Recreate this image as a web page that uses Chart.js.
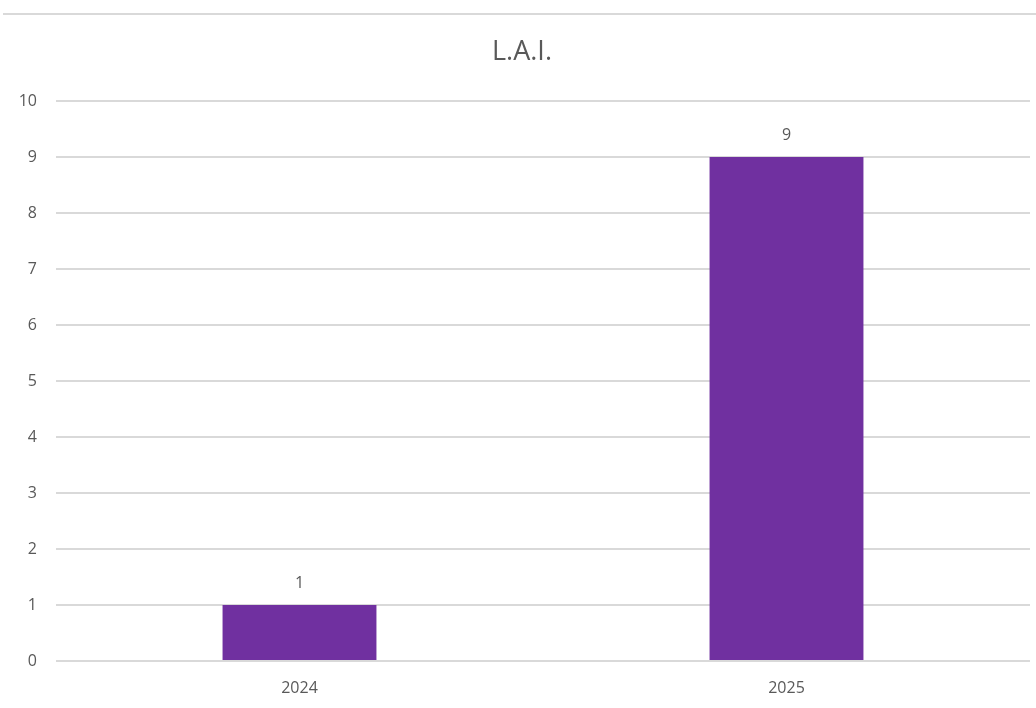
<!DOCTYPE html>
<html>
<head>
<meta charset="utf-8">
<script src="https://cdn.jsdelivr.net/npm/chart.js@4"></script>
<style>
  html, body { margin: 0; padding: 0; background: #fff; }
  #wrap { position: relative; width: 1036px; height: 708px; }
  #topline { position: absolute; left: 3px; right: 0; top: 13px; height: 0; border-top: 2px solid #d9d9d9; }
  canvas { display: block; }
</style>
</head>
<body>
<div id="wrap">
  <div id="topline"></div>
  <canvas id="laiChart" width="1036" height="708"></canvas>
</div>
<script>
const years = ['2024', '2025'];
const laiValues = [1, 9];
const yTicks = [0, 1, 2, 3, 4, 5, 6, 7, 8, 9, 10];

const textColor = '#595959';
const gridColor = '#d9d9d9';
const fontFamily = '"Open Sans", sans-serif';

// draws the value above each bar
const valueLabels = {
    id: 'valueLabels',
    afterDatasetsDraw(chart) {
        const ctx = chart.ctx;
        const meta = chart.getDatasetMeta(0);
        ctx.save();
        ctx.fillStyle = textColor;
        ctx.font = '16px ' + fontFamily;
        ctx.textAlign = 'center';
        ctx.textBaseline = 'middle';
        meta.data.forEach((bar, i) => {
            ctx.fillText(String(laiValues[i]), bar.x, bar.y - 22);
        });
        ctx.restore();
    }
};

const ctx = document.getElementById('laiChart').getContext('2d');
const laiChart = new Chart(ctx, {
    type: 'bar',
    data: {
        labels: years,
        datasets: [{
            label: 'L.A.I.',
            data: laiValues,
            backgroundColor: '#7030a0',
            borderWidth: 0,
            categoryPercentage: 1,
            barPercentage: 0.316
        }]
    },
    options: {
        responsive: false,
        animation: false,
        layout: {
            padding: { left: 14, right: 6, top: 0, bottom: 0 }
        },
        plugins: {
            legend: { display: false },
            tooltip: { enabled: false },
            title: {
                display: true,
                text: 'L.A.I.',
                color: textColor,
                font: { family: fontFamily, size: 27, weight: 'normal' },
                padding: { top: 36, bottom: 32.6 }
            }
        },
        scales: {
            x: {
                afterFit(axis) {
                    axis.height = 47;
                },
                grid: { display: false, drawTicks: false },
                border: { display: false },
                ticks: {
                    color: textColor,
                    font: { family: fontFamily, size: 16 },
                    padding: 18
                }
            },
            y: {
                min: 0,
                max: 10,
                afterBuildTicks(axis) {
                    axis.ticks = yTicks.map(v => ({ value: v }));
                },
                afterFit(axis) {
                    axis.width = 42;
                },
                grid: { color: gridColor, lineWidth: 2, drawTicks: false },
                border: { display: false },
                ticks: {
                    color: textColor,
                    font: { family: fontFamily, size: 16 },
                    padding: 19
                }
            }
        }
    },
    plugins: [valueLabels]
});
</script>
</body>
</html>
